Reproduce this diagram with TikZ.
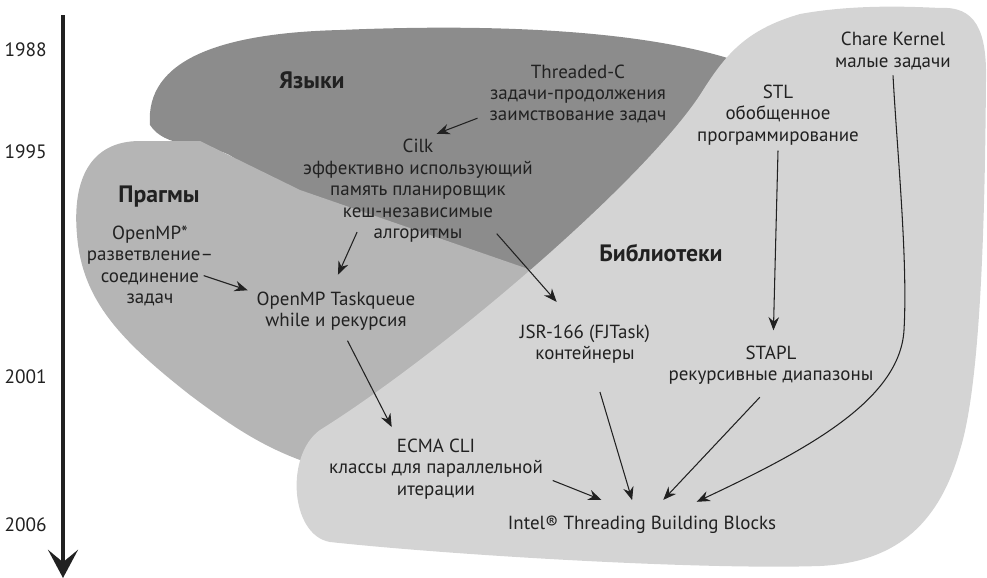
\documentclass[tikz,border=0pt]{standalone}
\usepackage{fontspec}
\setmainfont{PT Sans}
\usetikzlibrary{calc}
\usetikzlibrary{arrows.meta}

\definecolor{langfill}{gray}{0.55}
\definecolor{pragfill}{gray}{0.71}
\definecolor{libfill}{gray}{0.83}
\definecolor{ink}{gray}{0.13}

\begin{document}
\begin{tikzpicture}[x=0.02cm, y=-0.02cm,
    lbl/.style={align=center, inner sep=3pt, text=ink,
      font=\fontsize{10.8}{12.2}\selectfont},
    area/.style={inner sep=0pt, text=ink, font=\fontsize{13.5}{16}\selectfont\bfseries},
    year/.style={anchor=east, inner sep=0pt, text=ink, font=\fontsize{11}{13}\selectfont},
    arr/.style={draw=ink, line width=0.6pt, -{Stealth[length=7.5pt, width=6pt, inset=2.5pt]}}]
  \useasboundingbox (0,0) rectangle (987,578);

  % Regions
  % languages
  \fill[langfill] (150,125) .. controls (145,60) and (220,33) .. (340,30)
    .. controls (480,24) and (640,28) .. (740,62) -- (620,300) -- (530,288)
    .. controls (430,262) and (350,255) .. (300,228)
    .. controls (265,210) and (255,165) .. (225,153)
    .. controls (200,143) and (165,148) .. (150,125) -- cycle;
  % pragmas
  \fill[pragfill] (140,141) .. controls (90,141) and (72,180) .. (77,235)
    .. controls (82,300) and (120,340) .. (190,395)
    .. controls (230,425) and (260,445) .. (300,460)
    -- (420,460) -- (560,280) -- (300,190) -- (200,141) -- cycle;
  % libraries
  \fill[libfill] (320,430) .. controls (440,355) and (640,185) .. (700,95)
    .. controls (725,55) and (745,30) .. (800,14)
    .. controls (850,5) and (900,6) .. (940,8)
    .. controls (975,6) and (987,30) .. (986,80)
    .. controls (985,200) and (982,380) .. (960,450)
    .. controls (940,520) and (900,562) .. (820,566)
    .. controls (700,570) and (450,555) .. (330,542)
    .. controls (290,535) and (285,455) .. (320,430) -- cycle;

  % Time axis
  \coordinate (tstart) at (63,15);
  \coordinate (tend) at (63,578);
  \draw[ink, line width=2.8pt, -{Stealth[length=16pt, width=17pt, inset=7pt]}] (tstart) -- (tend);
  \node[year] (y1988) at (47,50)  {1988};
  \node[year] (y1995) at (47,152) {1995};
  \node[year] (y2001) at (47,377) {2001};
  \node[year] (y2006) at (47,525) {2006};

  % Area names
  \node[area] (langs) at (312,80)  {Языки};
  \node[area] (prags) at (159,197) {Прагмы};
  \node[area] (libs)  at (661,253) {Библиотеки};

  % Systems
  \node[lbl] (thr)   at (578,94)  {Threaded-C\\задачи-продолжения\\заимствование задач};
  \node[lbl] (cilk)  at (418,191) {Cilk\\эффективно использующий\\память планировщик\\кеш-независимые\\алгоритмы};
  \node[lbl] (omp)   at (150,266) {OpenMP*\\разветвление–\\соединение\\задач};
  \node[lbl] (tq)    at (336,311) {OpenMP Taskqueue\\while и рекурсия};
  \node[lbl] (jsr)   at (585,344) {JSR-166 (FJTask)\\контейнеры};
  \node[lbl] (stl)   at (778,115) {STL\\обобщенное\\программирование};
  \node[lbl] (chare) at (893,51)  {Chare Kernel\\малые задачи};
  \node[lbl] (stapl) at (771,365) {STAPL\\рекурсивные диапазоны};
  \node[lbl] (ecma)  at (436,469) {ECMA CLI\\классы для параллельной\\итерации};
  \node[lbl, inner ysep=8pt] (tbb) at (642,525) {Intel® Threading Building Blocks};

  % Influences
  \draw[arr, shorten <=4pt] (thr.193) -- (cilk.72);
  \draw[arr, shorten <=-10pt, shorten >=7pt] (cilk.220) -- (tq.97);
  \draw[arr, shorten <=-11pt, shorten >=13pt] (cilk.328) -- (jsr.118);
  \draw[arr, shorten <=-9pt, shorten >=2pt] (omp.348) -- (tq.167);
  \draw[arr, shorten <=3pt, shorten >=4pt] (tq.290) -- (ecma.139);
  \draw[arr, shorten <=2.5pt, shorten >=3pt] (ecma.355) -- (tbb.147);
  \draw[arr, shorten <=13.7pt, shorten >=1pt] (jsr.288) -- (tbb.112);
  \draw[arr, shorten <=5.6pt, shorten >=1.5pt] (stapl.260) -- (tbb.50);
  \draw[arr, shorten >=5.5pt] (stl.270) -- (stapl.85);
  \coordinate (kbend) at (904,330);
  \draw[arr] (chare.south) .. controls (897,150) and (908,260) .. (kbend)
    .. controls (900,400) and (807,450) .. (tbb.23);
\end{tikzpicture}
\end{document}
